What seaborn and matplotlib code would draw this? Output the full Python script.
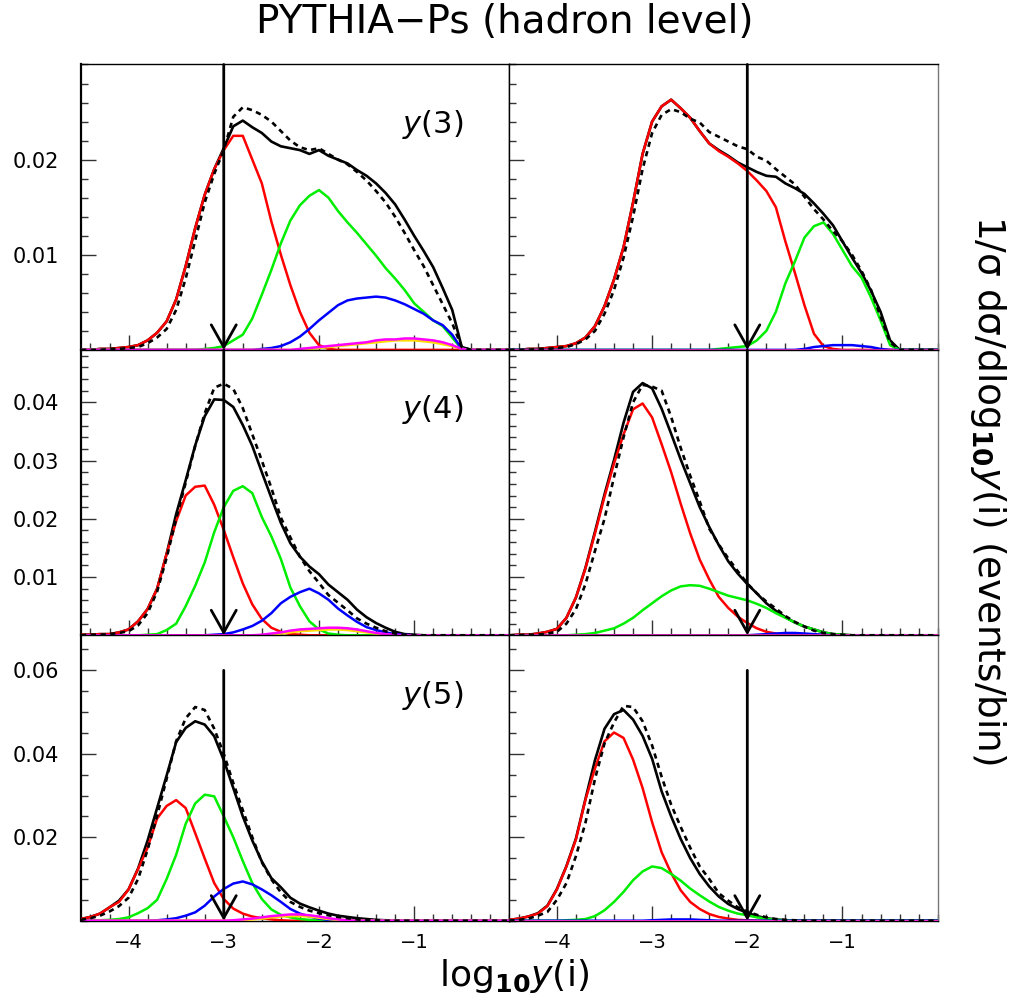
import numpy as np
import pandas as pd
import matplotlib
matplotlib.use("Agg")
import matplotlib.pyplot as plt
from matplotlib.ticker import MultipleLocator, FixedLocator, FormatStrFormatter
import seaborn as sns

# ---------------- data ----------------
X = [-4.5, -4.4, -4.3, -4.2, -4.1, -4.0, -3.9, -3.8, -3.7, -3.6,
     -3.5, -3.4, -3.3, -3.2, -3.1, -3.0, -2.9, -2.8, -2.7, -2.6,
     -2.5, -2.4, -2.3, -2.2, -2.1, -2.0, -1.9, -1.8, -1.7, -1.6,
     -1.5, -1.4, -1.3, -1.2, -1.1, -1.0, -0.9, -0.8, -0.7, -0.6,
     -0.5, -0.4, -0.3, -0.2, -0.1, 0.0]

Z10 = [0, 0, 0, 0, 0, 0, 0, 0, 0, 0]

# y(3), cut log10 ycut = -3 (left column)
y3_cut3_total = [0, 0, .0001, .0001, .0002, .0003, .0005, .0010, .0018, .0030,
                 .0053, .0088, .0128, .0163, .0190, .0212, .0235, .0241, .0234, .0228,
                 .0219, .0214, .0212, .0210, .0206, .0210, .0204, .0200, .0196, .0189,
                 .0183, .0175, .0165, .0153, .0137, .0120, .0104, .0087, .0065, .0042,
                 .0003, 0, 0, 0, 0, 0]
y3_cut3_dashed = [0, 0, 0, .0001, .0001, .0002, .0003, .0007, .0013, .0022,
                  .0042, .0075, .0115, .0155, .0185, .0210, .0245, .0255, .0252, .0247,
                  .0240, .0230, .0220, .0213, .0210, .0212, .0206, .0200, .0195, .0187,
                  .0178, .0167, .0155, .0140, .0123, .0105, .0088, .0068, .0048, .0028,
                  .0003, 0, 0, 0, 0, 0]
y3_cut3_red = [0, 0, .0001, .0001, .0002, .0003, .0005, .0010, .0018, .0030,
               .0053, .0088, .0128, .0163, .0190, .0210, .0225, .0225, .0200, .0175,
               .0135, .0100, .0068, .0040, .0018, .0005, .0001, 0, 0, 0,
               0, 0, 0, 0, 0, 0, 0, 0, 0, 0,
               0, 0, 0, 0, 0, 0]
y3_cut3_green = [0, 0, 0, 0, 0, 0, 0, 0, 0, 0,
                 0, 0, 0, .0001, .0002, .0004, .0010, .0016, .0033, .0058,
                 .0084, .0112, .0136, .0152, .0162, .0168, .0160, .0146, .0134, .0123,
                 .0111, .0099, .0086, .0075, .0063, .0049, .0040, .0031, .0025, .0013,
                 .0001, 0, 0, 0, 0, 0]
y3_cut3_blue = [0, 0, 0, 0, 0, 0, 0, 0, 0, 0,
                0, 0, 0, 0, 0, 0, 0, 0, 0, .0001,
                .0002, .0004, .0008, .0014, .0022, .0031, .0039, .0047, .0052, .0054,
                .0055, .0056, .0055, .0052, .0048, .0043, .0038, .0031, .0026, .0016,
                .0001, 0, 0, 0, 0, 0]
y3_cut3_magenta = [0, 0, 0, 0, 0, 0, 0, 0, 0, 0,
                   0, 0, 0, 0, 0, 0, 0, 0, 0, 0,
                   0, 0, 0, .0001, .0002, .0003, .0004, .0005, .0006, .0007,
                   .0008, .0010, .0011, .0011, .0012, .0012, .0011, .0010, .0008, .0005,
                   .0001, 0, 0, 0, 0, 0]
y3_cut3_yellow = [0, 0, 0, 0, 0, 0, 0, 0, 0, 0,
                  0, 0, 0, 0, 0, 0, 0, 0, 0, 0,
                  0, 0, 0, 0, .0001, .0002, .0003, .0004, .0005, .0006,
                  .0007, .0008, .0009, .0010, .0010, .0010, .0009, .0008, .0006, .0004,
                  .0001, 0, 0, 0, 0, 0]

# y(3), cut -2 (right column)
y3_cut2_total = [0, 0, .0001, .0001, .0002, .0003, .0004, .0007, .0013, .0025,
                 .0046, .0074, .0108, .0155, .0206, .0240, .0256, .0263, .0254, .0244,
                 .0230, .0217, .0210, .0204, .0197, .0192, .0187, .0183, .0182, .0175,
                 .0170, .0164, .0154, .0143, .0131, .0114, .0097, .0081, .0062, .0040,
                 .0010, 0, 0, 0, 0, 0]
y3_cut2_dashed = [0, 0, 0, .0001, .0001, .0002, .0003, .0006, .0011, .0020,
                  .0038, .0063, .0097, .0140, .0190, .0228, .0247, .0253, .0250, .0243,
                  .0239, .0229, .0224, .0219, .0214, .0211, .0203, .0199, .0190, .0182,
                  .0174, .0161, .0148, .0137, .0125, .0114, .0100, .0083, .0063, .0035,
                  .0008, 0, 0, 0, 0, 0]
y3_cut2_red = [0, 0, .0001, .0001, .0002, .0003, .0004, .0007, .0013, .0025,
               .0046, .0074, .0108, .0155, .0206, .0240, .0256, .0263, .0254, .0244,
               .0230, .0217, .0209, .0203, .0196, .0188, .0178, .0167, .0150, .0114,
               .0081, .0047, .0017, .0004, .0001, 0, 0, 0, 0, 0,
               0, 0, 0, 0, 0, 0]
y3_cut2_green = [0, 0, 0, 0, 0, 0, 0, 0, 0, 0,
                 0, 0, 0, 0, 0, 0, 0, 0, 0, 0,
                 0, 0, .0001, .0002, .0003, .0004, .0010, .0020, .0040, .0070,
                 .0093, .0118, .0130, .0134, .0122, .0105, .0088, .0076, .0055, .0031,
                 .0005, 0, 0, 0, 0, 0]
y3_cut2_blue = [0, 0, 0, 0, 0, 0, 0, 0, 0, 0,
                0, 0, 0, 0, 0, 0, 0, 0, 0, 0,
                0, 0, 0, 0, 0, 0, 0, 0, 0, 0,
                0, .0001, .0003, .0004, .0005, .0005, .0005, .0004, .0003, .0001,
                0, 0, 0, 0, 0, 0]
y3_cut2_magenta = Z10 * 4 + [0, 0, 0, 0, 0, 0]
y3_cut2_yellow = Z10 * 4 + [0, 0, 0, 0, 0, 0]

# y(4), cut -3
y4_cut3_total = [.0001, .0001, .0002, .0002, .0005, .0010, .0024, .0045, .0080, .0140,
                 .0208, .0266, .0326, .0376, .0405, .0404, .0392, .0361, .0325, .0280,
                 .0236, .0193, .0158, .0135, .0118, .0105, .0087, .0074, .0061, .0044,
                 .0031, .0021, .0013, .0006, .0002, .0001, 0, 0, 0, 0,
                 0, 0, 0, 0, 0, 0]
y4_cut3_dashed = [0, .0001, .0001, .0002, .0004, .0007, .0017, .0038, .0075, .0133,
                  .0200, .0262, .0325, .0381, .0425, .0432, .0423, .0390, .0345, .0300,
                  .0253, .0202, .0168, .0135, .0110, .0090, .0069, .0056, .0043, .0029,
                  .0020, .0013, .0007, .0003, .0001, 0, 0, 0, 0, 0,
                  0, 0, 0, 0, 0, 0]
y4_cut3_red = [.0001, .0001, .0002, .0002, .0005, .0010, .0024, .0045, .0080, .0140,
               .0196, .0240, .0255, .0257, .0224, .0181, .0134, .0089, .0053, .0028,
               .0013, .0006, .0002, .0001, 0, 0, 0, 0, 0, 0,
               0, 0, 0, 0, 0, 0, 0, 0, 0, 0,
               0, 0, 0, 0, 0, 0]
y4_cut3_green = [0, 0, 0, 0, 0, 0, 0, .0001, .0002, .0009,
                 .0020, .0050, .0085, .0125, .0177, .0220, .0248, .0256, .0244, .0203,
                 .0170, .0131, .0082, .0050, .0024, .0010, .0003, .0001, 0, 0,
                 0, 0, 0, 0, 0, 0, 0, 0, 0, 0,
                 0, 0, 0, 0, 0, 0]
y4_cut3_blue = [0, 0, 0, 0, 0, 0, 0, 0, 0, 0,
                0, 0, 0, 0, .0001, .0002, .0005, .0010, .0016, .0025,
                .0038, .0055, .0066, .0074, .0080, .0072, .0061, .0046, .0034, .0023,
                .0014, .0009, .0005, .0002, .0001, 0, 0, 0, 0, 0,
                0, 0, 0, 0, 0, 0]
y4_cut3_magenta = [0, 0, 0, 0, 0, 0, 0, 0, 0, 0,
                   0, 0, 0, 0, 0, 0, 0, 0, 0, .0001,
                   .0003, .0005, .0008, .0010, .0011, .0012, .0013, .0013, .0012, .0010,
                   .0007, .0004, .0002, .0001, 0, 0, 0, 0, 0, 0,
                   0, 0, 0, 0, 0, 0]
y4_cut3_yellow = [0, 0, 0, 0, 0, 0, 0, 0, 0, 0,
                  0, 0, 0, 0, 0, 0, 0, 0, 0, 0,
                  .0001, .0003, .0005, .0007, .0008, .0009, .0010, .0010, .0009, .0007,
                  .0005, .0003, .0001, 0, 0, 0, 0, 0, 0, 0,
                  0, 0, 0, 0, 0, 0]

# y(4), cut -2
y4_cut2_total = [0, .0001, .0001, .0003, .0006, .0011, .0030, .0065, .0116, .0178,
                 .0242, .0301, .0365, .0418, .0433, .0424, .0389, .0346, .0302, .0261,
                 .0220, .0186, .0155, .0127, .0106, .0088, .0072, .0055, .0042, .0031,
                 .0022, .0015, .0010, .0005, .0002, .0001, 0, 0, 0, 0,
                 0, 0, 0, 0, 0, 0]
y4_cut2_dashed = [0, 0, .0001, .0001, .0003, .0006, .0020, .0045, .0088, .0145,
                  .0200, .0272, .0340, .0400, .0430, .0427, .0420, .0375, .0322, .0274,
                  .0230, .0183, .0156, .0132, .0110, .0089, .0072, .0058, .0046, .0033,
                  .0023, .0015, .0008, .0004, .0002, .0001, 0, 0, 0, 0,
                  0, 0, 0, 0, 0, 0]
y4_cut2_red = [0, .0001, .0001, .0003, .0006, .0011, .0030, .0065, .0115, .0175,
               .0238, .0295, .0345, .0388, .0398, .0374, .0328, .0280, .0226, .0175,
               .0130, .0096, .0066, .0047, .0032, .0021, .0012, .0006, .0003, .0001,
               0, 0, 0, 0, 0, 0, 0, 0, 0, 0,
               0, 0, 0, 0, 0, 0]
y4_cut2_green = [0, 0, 0, 0, 0, 0, 0, .0001, .0002, .0004,
                 .0008, .0012, .0020, .0030, .0043, .0055, .0067, .0077, .0084, .0086,
                 .0085, .0080, .0074, .0068, .0064, .0060, .0054, .0047, .0038, .0030,
                 .0022, .0015, .0010, .0005, .0002, .0001, 0, 0, 0, 0,
                 0, 0, 0, 0, 0, 0]
y4_cut2_blue = [0, 0, 0, 0, 0, 0, 0, 0, 0, 0,
                0, 0, 0, 0, 0, 0, 0, 0, 0, 0,
                0, 0, 0, 0, 0, 0, .0001, .0002, .0003, .0004,
                .0004, .0003, .0002, .0001, 0, 0, 0, 0, 0, 0,
                0, 0, 0, 0, 0, 0]
y4_cut2_magenta = Z10 * 4 + [0, 0, 0, 0, 0, 0]
y4_cut2_yellow = Z10 * 4 + [0, 0, 0, 0, 0, 0]

# y(5), cut -3
y5_cut3_total = [.0004, .0009, .0017, .0032, .0048, .0075, .0125, .0192, .0270, .0348,
                 .0428, .0462, .0478, .0470, .0442, .0385, .0318, .0250, .0192, .0142,
                 .0102, .0080, .0055, .0041, .0032, .0024, .0017, .0012, .0009, .0006,
                 .0004, .0002, .0001, 0, 0, 0, 0, 0, 0, 0,
                 0, 0, 0, 0, 0, 0]
y5_cut3_dashed = [.0002, .0006, .0012, .0022, .0035, .0055, .0100, .0170, .0252, .0340,
                  .0430, .0485, .0512, .0505, .0460, .0400, .0330, .0265, .0200, .0140,
                  .0099, .0068, .0045, .0033, .0024, .0018, .0013, .0009, .0006, .0003,
                  .0002, .0001, 0, 0, 0, 0, 0, 0, 0, 0,
                  0, 0, 0, 0, 0, 0]
y5_cut3_red = [.0004, .0009, .0017, .0032, .0045, .0075, .0124, .0175, .0245, .0275,
               .0289, .0270, .0210, .0149, .0090, .0052, .0029, .0017, .0010, .0006,
               .0003, .0001, 0, 0, 0, 0, 0, 0, 0, 0,
               0, 0, 0, 0, 0, 0, 0, 0, 0, 0,
               0, 0, 0, 0, 0, 0]
y5_cut3_green = [0, 0, .0001, .0002, .0004, .0008, .0018, .0030, .0050, .0100,
                 .0158, .0232, .0281, .0302, .0298, .0250, .0200, .0143, .0090, .0052,
                 .0027, .0014, .0008, .0004, .0002, .0001, 0, 0, 0, 0,
                 0, 0, 0, 0, 0, 0, 0, 0, 0, 0,
                 0, 0, 0, 0, 0, 0]
y5_cut3_blue = [0, 0, 0, 0, 0, 0, 0, 0, .0001, .0003,
                .0006, .0012, .0020, .0036, .0058, .0076, .0089, .0094, .0087, .0075,
                .0061, .0045, .0028, .0017, .0010, .0005, .0002, .0001, 0, 0,
                0, 0, 0, 0, 0, 0, 0, 0, 0, 0,
                0, 0, 0, 0, 0, 0]
y5_cut3_magenta = [0, 0, 0, 0, 0, 0, 0, 0, 0, 0,
                   0, 0, 0, 0, 0, 0, .0001, .0003, .0005, .0008,
                   .0011, .0013, .0015, .0015, .0013, .0010, .0006, .0003, .0001, 0,
                   0, 0, 0, 0, 0, 0, 0, 0, 0, 0,
                   0, 0, 0, 0, 0, 0]
y5_cut3_yellow = [0, 0, 0, 0, 0, 0, 0, 0, 0, 0,
                  0, 0, 0, 0, 0, 0, 0, .0001, .0003, .0005,
                  .0008, .0010, .0011, .0011, .0010, .0007, .0004, .0002, .0001, 0,
                  0, 0, 0, 0, 0, 0, 0, 0, 0, 0,
                  0, 0, 0, 0, 0, 0]

# y(5), cut -2
y5_cut2_total = [.0002, .0005, .0010, .0018, .0036, .0076, .0131, .0197, .0292, .0385,
                 .0460, .0495, .0505, .0482, .0443, .0388, .0310, .0250, .0196, .0150,
                 .0112, .0082, .0058, .0040, .0028, .0019, .0011, .0006, .0003, .0001,
                 0, 0, 0, 0, 0, 0, 0, 0, 0, 0,
                 0, 0, 0, 0, 0, 0]
y5_cut2_dashed = [0, .0002, .0005, .0012, .0021, .0050, .0090, .0155, .0235, .0340,
                  .0425, .0475, .0515, .0512, .0478, .0420, .0345, .0278, .0225, .0175,
                  .0130, .0100, .0066, .0048, .0032, .0022, .0014, .0008, .0004, .0002,
                  .0001, 0, 0, 0, 0, 0, 0, 0, 0, 0,
                  0, 0, 0, 0, 0, 0]
y5_cut2_red = [.0002, .0005, .0010, .0017, .0035, .0075, .0130, .0195, .0290, .0365,
               .0430, .0451, .0438, .0386, .0318, .0236, .0164, .0114, .0073, .0045,
               .0028, .0016, .0009, .0005, .0002, .0001, 0, 0, 0, 0,
               0, 0, 0, 0, 0, 0, 0, 0, 0, 0,
               0, 0, 0, 0, 0, 0]
y5_cut2_green = [0, 0, 0, 0, 0, 0, .0001, .0002, .0004, .0011,
                 .0025, .0045, .0069, .0097, .0118, .0130, .0126, .0112, .0096, .0077,
                 .0061, .0046, .0033, .0024, .0017, .0013, .0008, .0005, .0002, .0001,
                 0, 0, 0, 0, 0, 0, 0, 0, 0, 0,
                 0, 0, 0, 0, 0, 0]
y5_cut2_blue = [0, 0, 0, 0, 0, 0, 0, 0, 0, 0,
                0, 0, 0, 0, 0, .0001, .0002, .0003, .0003, .0003,
                .0002, .0001, 0, 0, 0, 0, 0, 0, 0, 0,
                0, 0, 0, 0, 0, 0, 0, 0, 0, 0,
                0, 0, 0, 0, 0, 0]
y5_cut2_magenta = Z10 * 4 + [0, 0, 0, 0, 0, 0]
y5_cut2_yellow = Z10 * 4 + [0, 0, 0, 0, 0, 0]

ROW_NUMBERS = ["3", "4", "5"]
CUTS = [-3.0, -2.0]
YMAX = [0.030, 0.049, 0.0684]
YMAJOR = [[0.01, 0.02], [0.01, 0.02, 0.03, 0.04], [0.02, 0.04, 0.06]]
YMINOR = [0.002, 0.002, 0.005]
ARROW_TOP = [0.030, 0.049, 0.060]
XMAJOR = [-4, -3, -2, -1]

PANELS = {
    (0, 0): dict(total=y3_cut3_total, dashed=y3_cut3_dashed, red=y3_cut3_red, green=y3_cut3_green,
                 blue=y3_cut3_blue, yellow=y3_cut3_yellow, magenta=y3_cut3_magenta),
    (0, 1): dict(total=y3_cut2_total, dashed=y3_cut2_dashed, red=y3_cut2_red, green=y3_cut2_green,
                 blue=y3_cut2_blue, yellow=y3_cut2_yellow, magenta=y3_cut2_magenta),
    (1, 0): dict(total=y4_cut3_total, dashed=y4_cut3_dashed, red=y4_cut3_red, green=y4_cut3_green,
                 blue=y4_cut3_blue, yellow=y4_cut3_yellow, magenta=y4_cut3_magenta),
    (1, 1): dict(total=y4_cut2_total, dashed=y4_cut2_dashed, red=y4_cut2_red, green=y4_cut2_green,
                 blue=y4_cut2_blue, yellow=y4_cut2_yellow, magenta=y4_cut2_magenta),
    (2, 0): dict(total=y5_cut3_total, dashed=y5_cut3_dashed, red=y5_cut3_red, green=y5_cut3_green,
                 blue=y5_cut3_blue, yellow=y5_cut3_yellow, magenta=y5_cut3_magenta),
    (2, 1): dict(total=y5_cut2_total, dashed=y5_cut2_dashed, red=y5_cut2_red, green=y5_cut2_green,
                 blue=y5_cut2_blue, yellow=y5_cut2_yellow, magenta=y5_cut2_magenta),
}

# ---------------- style ----------------
STYLE = {
    "total":   dict(color="black", lw=1.9, z=3),
    "red":     dict(color="#ff0000", lw=1.8, z=4),
    "green":   dict(color="#00ee00", lw=1.8, z=4),
    "blue":    dict(color="#0000ff", lw=1.8, z=4),
    "yellow":  dict(color="#ffdd00", lw=1.8, z=4),
    "magenta": dict(color="#ff00ff", lw=1.8, z=5),
    "dashed":  dict(color="black", lw=1.9, z=6),
}
ORDER = ["total", "red", "green", "blue", "yellow", "magenta", "dashed"]

sns.set_theme(style="white")
plt.rcParams["font.family"] = ["DejaVu Sans"]
plt.rcParams["axes.unicode_minus"] = True
plt.rcParams["mathtext.fontset"] = "dejavusans"
plt.rcParams["text.color"] = "black"
plt.rcParams["xtick.labelcolor"] = "black"
plt.rcParams["ytick.labelcolor"] = "black"

fig = plt.figure(figsize=(10.21, 10.06), dpi=100)
gs = fig.add_gridspec(3, 2, left=0.0793, right=0.9184, bottom=0.0848, top=0.9359,
                      wspace=0, hspace=0)
axes = gs.subplots(sharex=True, sharey="row")

for (r, c), curves in PANELS.items():
    ax = axes[r, c]
    for name in ORDER:
        vals = curves[name]
        assert len(vals) == len(X), (r, c, name, len(vals))
        df = pd.DataFrame({"x": X, "v": vals})
        st = STYLE[name]
        sns.lineplot(data=df, x="x", y="v", ax=ax, color=st["color"], lw=st["lw"],
                     errorbar=None, sort=False, legend=False, zorder=st["z"])
        if name == "dashed":
            ax.lines[-1].set_dashes([2.0, 1.7])
    ax.set_xlim(-4.5, 0.0)
    ax.set_ylim(0, YMAX[r])
    ax.set_xlabel("")
    ax.set_ylabel("")
    ax.xaxis.set_major_locator(FixedLocator(XMAJOR))
    ax.xaxis.set_minor_locator(MultipleLocator(0.2))
    ax.yaxis.set_major_locator(FixedLocator(YMAJOR[r]))
    ax.yaxis.set_minor_locator(MultipleLocator(YMINOR[r]))
    ax.yaxis.set_major_formatter(FormatStrFormatter("%g"))
    ax.tick_params(axis="both", which="both", direction="in", bottom=True, left=True,
                   top=False, right=False, color="#333333", width=1.0,
                   labelcolor="black")
    ax.tick_params(axis="both", which="major", length=11)
    ax.tick_params(axis="both", which="minor", length=5)
    ax.tick_params(axis="y", which="major", pad=16, labelsize=15)
    ax.tick_params(axis="x", which="major", pad=9, labelsize=14)
    if c == 1:
        ax.tick_params(axis="y", labelleft=False)
    if r < 2:
        ax.tick_params(axis="x", labelbottom=False)
    for sp in ax.spines.values():
        sp.set_color("black")
        sp.set_linewidth(1.0)
    if c == 0:
        ax.spines["left"].set_linewidth(1.6)
    else:
        ax.spines["right"].set_color("#777777")

    cut = CUTS[c]
    ax.annotate("", xy=(cut, 0.0), xytext=(cut, ARROW_TOP[r]),
                xycoords="data", textcoords="data", annotation_clip=False,
                arrowprops=dict(arrowstyle="->,head_length=0.8,head_width=0.45",
                                color="black", lw=2.0, shrinkA=0, shrinkB=0,
                                mutation_scale=20),
                zorder=7)
    if c == 0:
        ax.text(0.822, 0.79, "$y$(" + ROW_NUMBERS[r] + ")", transform=ax.transAxes,
                ha="center", va="center", fontsize=22, color="black")

fig.text(0.4946, 0.978, "PYTHIA\u2212Ps (hadron level)", ha="center", va="center",
         fontsize=28, color="black")
fig.text(0.503, 0.030, r"log$_{\mathbf{10}}$$y$(i)", ha="center", va="center",
         fontsize=26, color="black")
fig.text(0.968, 0.513, r"1/σ dσ/dlog$_{\mathbf{10}}$$y$(i) (events/bin)", rotation=270,
         ha="center", va="center", fontsize=27, color="black")

fig.savefig("out.png", dpi=100)
